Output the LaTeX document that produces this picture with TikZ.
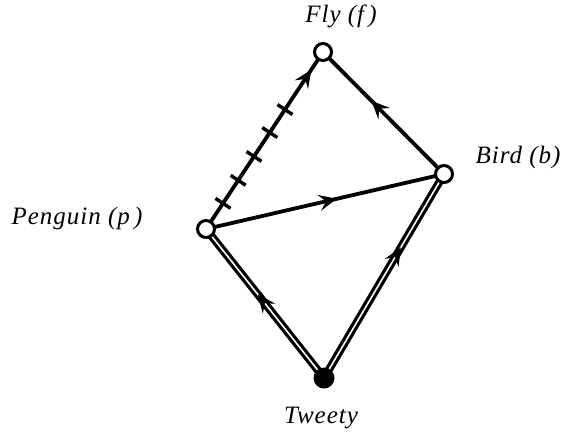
\documentclass[tikz,border=0pt]{standalone}
\usepackage{fontspec}
\setmainfont{Liberation Serif}[LetterSpace=4]
\usetikzlibrary{arrows.meta,decorations.markings}
\tikzset{
  vert/.style={circle,draw,line width=3pt,fill=white,minimum size=17pt,inner sep=0pt},
  fullvert/.style={circle,fill=black,minimum size=21pt,inner sep=0pt},
  lbl/.style={font=\fontsize{25}{29}\selectfont\itshape},
  edge/.style={line width=3.8pt},
  dedge/.style={line width=3.2pt,double=white,double distance=1.6pt},
  midarrow/.style={decoration={markings,mark=at position #1 with {\arrow{Stealth[length=18pt,width=16pt,inset=7pt]}}},postaction={decorate}},
  tk/.style={line width=3.4pt},
  tick/.style={decoration={markings,
     mark=at position 0.145 with {\draw[tk] (0,-9pt) -- (0,9pt);},
     mark=at position 0.275 with {\draw[tk] (0,-9pt) -- (0,9pt);},
     mark=at position 0.41 with {\draw[tk] (0,-9pt) -- (0,9pt);},
     mark=at position 0.545 with {\draw[tk] (0,-9pt) -- (0,9pt);},
     mark=at position 0.675 with {\draw[tk] (0,-9pt) -- (0,9pt);},
     mark=at position 0.9 with {\arrow[line width=1pt]{Stealth[length=18pt,width=16pt,inset=7pt]}}
     },postaction={decorate}}
}
\begin{document}
\begin{tikzpicture}[x=1pt,y=-1pt]
\useasboundingbox (0,0) rectangle (567,440);
\coordinate (fc) at (323,52);
\coordinate (bc) at (444,174);
\coordinate (pc) at (206,229);
\coordinate (tc) at (324,378);
% edges
\draw[edge,tick] (pc) -- (fc);
\draw[edge,midarrow=0.6] (bc) -- (fc);
\draw[edge,midarrow=0.55] (pc) -- (bc);
\draw[dedge] (tc) -- (pc);
\draw[dedge] (tc) -- (bc);
\path[line width=1pt,midarrow=0.56] (tc) -- (pc);
\path[line width=1pt,midarrow=0.64] (tc) -- (bc);
% vertices
\node[vert] (f) at (fc) {};
\node[vert] (b) at (bc) {};
\node[vert] (p) at (pc) {};
\node[fullvert] (t) at (tc) {};
% labels
\node[lbl] (fl) at (341,16) {Fly (f\,)};
\node[lbl] (bl) at (518,157) {Bird (b)};
\node[lbl] (pl) at (77,218) {Penguin (p\,)};
\node[lbl] (tl) at (321,418) {Tweety};
\end{tikzpicture}
\end{document}
